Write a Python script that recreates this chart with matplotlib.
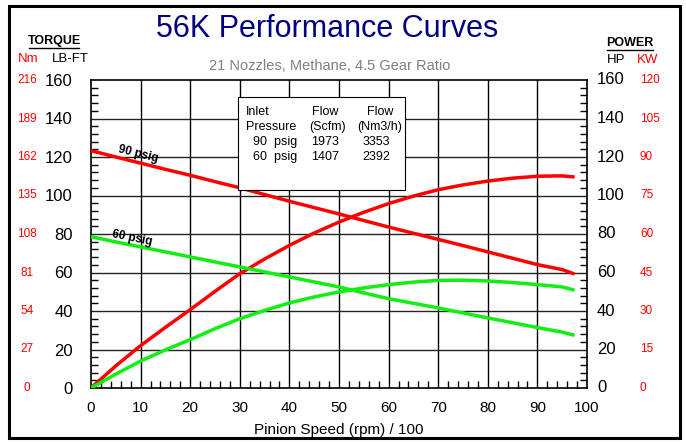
import matplotlib
matplotlib.use("Agg")
import matplotlib.pyplot as plt
import matplotlib.transforms as mtransforms
from matplotlib.patches import Rectangle
from matplotlib.lines import Line2D
from matplotlib.ticker import MultipleLocator

plt.rcParams['font.family'] = ['Liberation Sans', 'DejaVu Sans']

# Pinion speed (rpm / 100)
speed = [0, 5, 10, 15, 20, 25, 30, 35, 40, 45, 50, 55, 60, 65, 70, 75, 80, 85, 90, 95, 97.5]

# 90 psig inlet
torque_90 = [123.3, 120.0, 116.8, 113.6, 110.5, 107.2, 104.0, 100.5, 97.0, 93.7, 90.4,
             87.0, 83.6, 80.4, 77.2, 74.0, 70.7, 67.4, 64.1, 61.5, 59.2]
power_90 = [0, 11.5, 22.0, 31.5, 40.7, 50.2, 59.4, 67.0, 74.1, 80.5, 86.2,
            91.3, 95.8, 99.7, 103.0, 105.5, 107.5, 109.0, 110.0, 110.2, 109.6]

# 60 psig inlet
torque_60 = [78.6, 75.9, 73.3, 70.7, 68.1, 65.5, 62.9, 60.3, 57.7, 55.1, 52.5,
             49.4, 46.4, 44.0, 41.6, 39.0, 36.4, 33.9, 31.4, 29.0, 27.4]
power_60 = [0, 7.2, 14.0, 19.8, 25.1, 30.8, 36.0, 40.3, 44.2, 47.3, 49.9,
            52.0, 53.7, 55.0, 55.9, 56.0, 55.6, 54.8, 53.7, 52.5, 50.8]

# Axis labels
lbft_ticks = [0, 20, 40, 60, 80, 100, 120, 140, 160]
nm_labels = ['0', '27', '54', '81', '108', '135', '162', '189', '216']
kw_labels = ['0', '15', '30', '45', '60', '75', '90', '105', '120']
x_ticks = [0, 10, 20, 30, 40, 50, 60, 70, 80, 90, 100]

# Flow table
table_rows = [("90  psig", "1973", "3353"), ("60  psig", "1407", "2392")]

RED = '#ff0000'
GREEN = '#11ee11'
W, H = 686, 443

fig = plt.figure(figsize=(W / 100, H / 100), dpi=100)
fig.patch.set_facecolor('white')


def fx(x):
    return x / W


def fy(y):
    return 1 - y / H


ax = fig.add_axes([fx(91), fy(388), fx(587) - fx(91), fy(80) - fy(388)])
ax.set_xlim(0, 100)
ax.set_ylim(0, 160)

for x in x_ticks[1:-1]:
    ax.axvline(x, color='black', lw=1.0, zorder=1)
for y in lbft_ticks[1:-1]:
    ax.axhline(y, color='#222222', lw=1.0, zorder=1)

ax.plot(speed, torque_90, color=RED, lw=2.5, zorder=3, solid_capstyle='butt')
ax.plot(speed, power_90, color=RED, lw=2.5, zorder=3, solid_capstyle='butt')
ax.plot(speed, torque_60, color=GREEN, lw=2.5, zorder=3, solid_capstyle='butt')
ax.plot(speed, power_60, color=GREEN, lw=2.5, zorder=3, solid_capstyle='butt')

ax.text(9.3, 118.6, "90 psig", rotation=-14, fontsize=8.5, fontweight='bold',
        ha='center', va='bottom', rotation_mode='anchor', zorder=4)
ax.text(8.1, 75.0, "60 psig", rotation=-11.5, fontsize=8.5, fontweight='bold',
        ha='center', va='bottom', rotation_mode='anchor', zorder=4)

ax.set_xticks(x_ticks)
ax.set_yticks(lbft_ticks)
ax.xaxis.set_minor_locator(MultipleLocator(2))
ax.yaxis.set_minor_locator(MultipleLocator(4))
ax.tick_params(axis='both', which='major', length=0, labelsize=12)
ax.tick_params(axis='x', which='major', pad=9, labelsize=11)
ax.tick_params(axis='y', which='major', pad=13)
ax.tick_params(axis='both', which='minor', direction='in', length=5, width=1,
               right=True, top=False)
for s in ax.spines.values():
    s.set_linewidth(1.2)
ax.set_xlabel("Pinion Speed (rpm) / 100", fontsize=11, labelpad=6)

# Side scales
trans = mtransforms.blended_transform_factory(fig.transFigure, ax.transData)
for v, nm, kw in zip(lbft_ticks, nm_labels, kw_labels):
    fig.text(fx(27), v, nm, transform=trans, color=RED, fontsize=8.5,
             ha='center', va='center')
    fig.text(fx(597), v, str(v), transform=trans, color='black', fontsize=12,
             ha='left', va='center')
    fig.text(fx(640), v, kw, transform=trans, color=RED, fontsize=8.5,
             ha='left', va='center')

# Headers
fig.text(fx(54), fy(41), "TORQUE", fontsize=9, fontweight='bold', ha='center', va='center')
fig.add_artist(Line2D([fx(29), fx(79)], [fy(47.5), fy(47.5)], color='black', lw=1.0))
fig.text(fx(28), fy(58.5), "Nm", fontsize=9.5, color=RED, ha='center', va='center')
fig.text(fx(70), fy(58.5), "LB-FT", fontsize=9.5, color='black', ha='center', va='center')

fig.text(fx(630), fy(43), "POWER", fontsize=9, fontweight='bold', ha='center', va='center')
fig.add_artist(Line2D([fx(607), fx(653)], [fy(49.5), fy(49.5)], color='black', lw=1.0))
fig.text(fx(616), fy(60), "HP", fontsize=9.5, color='black', ha='center', va='center')
fig.text(fx(648), fy(60), "KW", fontsize=9.5, color=RED, ha='center', va='center')

fig.text(fx(327), fy(29), "56K Performance Curves", fontsize=22, color='#000080',
         ha='center', va='center')
fig.text(fx(330), fy(66), "21 Nozzles, Methane, 4.5 Gear Ratio", fontsize=10.5,
         color='#808080', ha='center', va='center')

# Flow table box
fig.add_artist(Rectangle((fx(238), fy(190)), fx(405) - fx(238), fy(97) - fy(190),
                         transform=fig.transFigure, facecolor='white',
                         edgecolor='black', lw=0.8, zorder=5))
tkw = dict(fontsize=9, ha='center', va='center', zorder=6)
fig.text(fx(246), fy(112), "Inlet", fontsize=9, ha='left', va='center', zorder=6)
fig.text(fx(246), fy(127), "Pressure", fontsize=9, ha='left', va='center', zorder=6)
fig.text(fx(325), fy(112), "Flow", **tkw)
fig.text(fx(328), fy(127), "(Scfm)", **tkw)
fig.text(fx(380), fy(112), "Flow", **tkw)
fig.text(fx(380), fy(127), "(Nm3/h)", **tkw)
for i, (p, f1, f2) in enumerate(table_rows):
    yy = fy(142 + 15 * i)
    fig.text(fx(253), yy, p, fontsize=9, ha='left', va='center', zorder=6)
    fig.text(fx(325), yy, f1, **tkw)
    fig.text(fx(376), yy, f2, **tkw)

# Outer frame
fig.add_artist(Rectangle((fx(9), fy(438)), fx(680) - fx(9), fy(6) - fy(438),
                         transform=fig.transFigure, facecolor='none',
                         edgecolor='black', lw=2.2, zorder=10))

fig.savefig("out.png", dpi=100)
